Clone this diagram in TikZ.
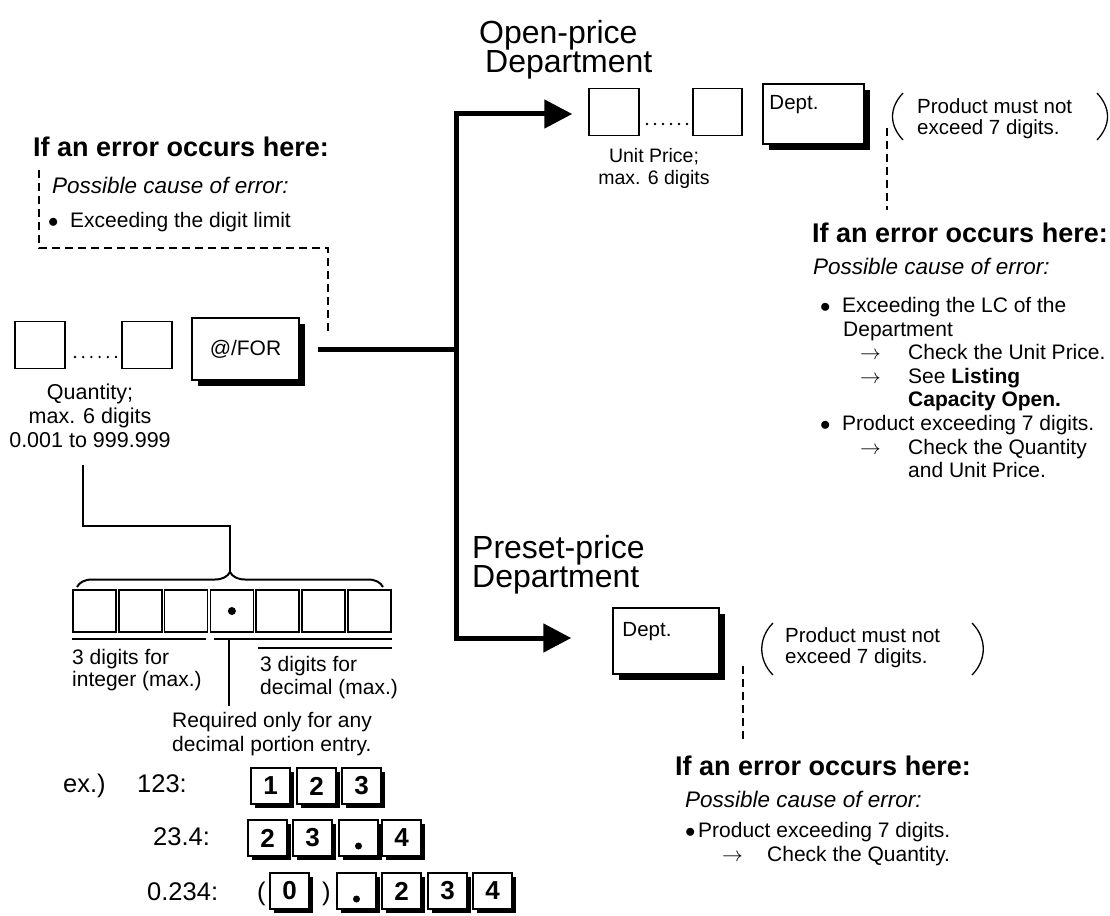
\documentclass[tikz,border=0pt]{standalone}
\usepackage{fontspec}
\setmainfont{Liberation Sans}
\usetikzlibrary{arrows.meta,shadows,decorations.pathreplacing}
\newcommand{\hdfont}{\fontsize{27}{30}\selectfont\bfseries}
\newcommand{\txfont}{\fontsize{21}{23.6}\selectfont}
\newcommand{\cafont}{\fontsize{22.5}{24}\selectfont\itshape}
\newcommand{\ttlfont}{\fontsize{32}{29}\selectfont}
\newcommand{\smfont}{\fontsize{20.5}{21}\selectfont}
\newcommand{\upfont}{\fontsize{19.5}{22}\selectfont}
\newcommand{\exfont}{\fontsize{25.5}{26}\selectfont}
\newcommand{\kyfont}{\fontsize{26}{26}\selectfont\bfseries}
\newcommand{\errbullet}[1][22pt]{\makebox[#1][l]{$\bullet$}}
\newcommand{\errarrow}[1][48pt]{\makebox[#1][l]{$\rightarrow$}}
\tikzset{
  txt/.style={inner sep=0pt, font=\txfont},
  cell/.style={draw, line width=1.5pt, inner sep=0pt, minimum width=50pt, minimum height=47pt},
  keybody/.style={draw, line width=1.5pt, fill=white, inner sep=0pt},
  key/.style={keybody, general shadow={fill=black, shadow xshift=6pt, shadow yshift=-6pt}},
  smallkey/.style={keybody, minimum width=39pt, minimum height=36pt, font=\kyfont,
    general shadow={fill=black, shadow xshift=4pt, shadow yshift=-4pt}},
  trunk/.style={line width=5pt},
  conn/.style={line width=2pt},
  errline/.style={line width=1.4pt, dash pattern=on 8pt off 5pt},
  paren/.style={line width=1.3pt}
}
\begin{document}
\begin{tikzpicture}[x=1pt,y=-1pt]
\path[use as bounding box] (0,0) rectangle (1110,915);
% quantity entry
\node[cell] (q1) at (40,345) {};
\node[cell] (q2) at (147,345) {};
\foreach \i in {0,...,5} \fill (75+8.2*\i,357) circle (1.3);
\node[key, minimum width=107pt, minimum height=62pt, font=\txfont] (for) at (245.5,349) {@/FOR};
\node[txt, anchor=north, align=center, font=\fontsize{21.5}{24}\selectfont] (qtxt) at (90,384) {Quantity;\\max. 6 digits\\0.001 to 999.999};
% left error note
\node[txt, font=\hdfont, anchor=base west] (h1) at (33,157) {If an error occurs here:};
\node[txt, font=\cafont, anchor=base west] (c1) at (52,193) {Possible cause of error:};
\node[txt, anchor=base west] (b1) at (48,227) {\errbullet Exceeding the digit limit};
\coordinate (e1) at (39,170);
\coordinate (e2) at (328,335);
\draw[errline] (e1) -- ++(0,78) -| (e2);
% open-price department
\node[txt, font=\ttlfont, anchor=north west, align=left] (op) at (479,20) {Open-price\\\hspace*{6pt}Department};
\node[cell] (up1) at (614,112) {};
\node[cell, minimum width=49pt] (up2) at (717.5,112) {};
\foreach \i in {0,...,5} \fill (647+8*\i,124) circle (1.3);
\node[txt, font=\upfont, anchor=north, align=center] (uptxt) at (654,148) {Unit Price;\\max. 6 digits};
\node[key, minimum width=101pt, minimum height=60pt] (dp1) at (813.5,114) {};
\node[txt, font=\smfont, anchor=base west] (dl1) at ([xshift=7pt,yshift=-26pt]dp1.north west) {Dept.};
\draw[paren] (903,93) .. controls (889,108) and (889,125) .. (903,140);
\node[txt, font=\smfont, anchor=north west, align=left] (pm1) at (917,98) {Product must not\\exceed 7 digits.};
\draw[paren] (1097,93) .. controls (1111,108) and (1111,125) .. (1097,140);
\coordinate (e3) at (887,128);
\coordinate (e4) at (887,210);
\draw[errline] (e3) -- (e4);
\node[txt, font=\hdfont, anchor=base west] (h2) at (812,242) {If an error occurs here:};
\node[txt, font=\cafont, anchor=base west] (c2) at (813,274) {Possible cause of error:};
\node[txt, anchor=north west, align=left] (ls2) at (820,297) {%
\errbullet Exceeding the LC of the\\
\hspace*{23pt}Department\\
\hspace*{40pt}\errarrow Check the Unit Price.\\
\hspace*{40pt}\errarrow See \textbf{Listing}\\
\hspace*{88pt}\textbf{Capacity Open.}\\
\errbullet Product exceeding 7 digits.\\
\hspace*{40pt}\errarrow Check the Quantity\\
\hspace*{88pt}and Unit Price.};
% preset-price department
\node[txt, font=\ttlfont, anchor=north west, align=left] (pp) at (472,535) {Preset-price\\Department};
\node[key, minimum width=106pt, minimum height=66pt] (dp2) at (666,641) {};
\node[txt, font=\smfont, anchor=base west] (dl2) at ([xshift=10pt,yshift=-29pt]dp2.north west) {Dept.};
\draw[paren] (773,623) .. controls (758,638) and (758,660) .. (773,675);
\node[txt, font=\smfont, anchor=north west, align=left] (pm2) at (785,627) {Product must not\\exceed 7 digits.};
\draw[paren] (972,623) .. controls (987,638) and (987,660) .. (972,675);
\coordinate (e5) at (743,666);
\coordinate (e6) at (743,743);
\draw[errline] (e5) -- (e6);
\node[txt, font=\hdfont, anchor=base west] (h3) at (675,775) {If an error occurs here:};
\node[txt, font=\cafont, anchor=base west] (c3) at (685,807) {Possible cause of error:};
\node[txt, anchor=north west, align=left] (ls3) at (685,822) {%
\errbullet[13pt]Product exceeding 7 digits.\\
\hspace*{37pt}\errarrow[45pt]Check the Quantity.};
% main line
\coordinate (top) at (456,114);
\coordinate (bot) at (456,638);
\coordinate (jn) at (456,349);
\draw[trunk] ([xshift=18pt]for.east) -- (jn);
\draw[trunk, {Triangle[length=28pt,width=28pt]}-{Triangle[length=28pt,width=28pt]}, shorten <=16pt, shorten >=41pt]
  (top -| up1.west) -- (top) -- (bot) -- (bot -| dp2.west);
% digit layout
\foreach \i in {1,...,7} \node[cell, minimum width=43pt, minimum height=42pt] (d\i) at ({48.7+45.8*\i},611) {};
\fill (d4.center) circle (4);
\draw[conn, decorate, decoration={brace, amplitude=15pt}] (77,587) -- (383,587);
\coordinate (qb) at (83,465);
\coordinate (bt) at (230,572);
\draw[conn] (qb) -- ++(0,61) -| (bt);
\draw[conn] ([yshift=-6pt]d1.south west) -- ([xshift=-2pt,yshift=-6pt]d3.south east);
\draw[conn] ([xshift=4pt,yshift=-6pt]d4.south west) -- ([yshift=-6pt]d7.south east);
\draw[conn] ([xshift=3pt,yshift=-15pt]d5.south west) -- ([yshift=-15pt]d7.south east);
\draw[conn] ([xshift=-3pt,yshift=-6pt]d4.south) -- ++(0,67);
\node[txt, anchor=north west, align=left, font=\fontsize{21}{22}\selectfont] (it1) at (72,649) {3 digits for\\integer (max.)};
\node[txt, anchor=north west, align=left, font=\fontsize{21}{23}\selectfont] (dc1) at (260,656) {3 digits for\\decimal (max.)};
\node[txt, anchor=north west, align=left, font=\fontsize{21}{24}\selectfont] (rq1) at (172,712) {Required only for any\\decimal portion entry.};
% examples
\node[txt, font=\exfont, anchor=base west] (ex) at (63,792) {ex.)};
\node[txt, font=\exfont, anchor=base west] (l1) at (137,792) {123:};
\node[txt, font=\exfont, anchor=base west] (l2) at (153,845) {23.4:};
\node[txt, font=\exfont, anchor=base west] (l3) at (147,900) {0.234:};
\foreach \n/\x/\t in {1/270.5/1, 2/316.5/2, 3/361.5/3}
  \node[smallkey] (ka\n) at (\x,786) {\t};
\foreach \n/\x/\t in {1/267.5/2, 2/312.5/3, 3/358.5/{}, 4/401.5/4}
  \node[smallkey] (kb\n) at (\x,838) {\t};
\fill ([yshift=-8pt]kb3.center) circle (3.5);
\node[txt, font=\exfont, anchor=base west] (pl) at (257,900) {(};
\node[txt, font=\exfont, anchor=base west] (pr) at (322,900) {)};
\foreach \n/\x/\t in {1/289.5/0, 2/356.5/{}, 3/401.5/2, 4/447.5/3, 5/492.5/4}
  \node[smallkey] (kc\n) at (\x,891) {\t};
\fill ([yshift=-8pt]kc2.center) circle (3.5);
\end{tikzpicture}
\end{document}
